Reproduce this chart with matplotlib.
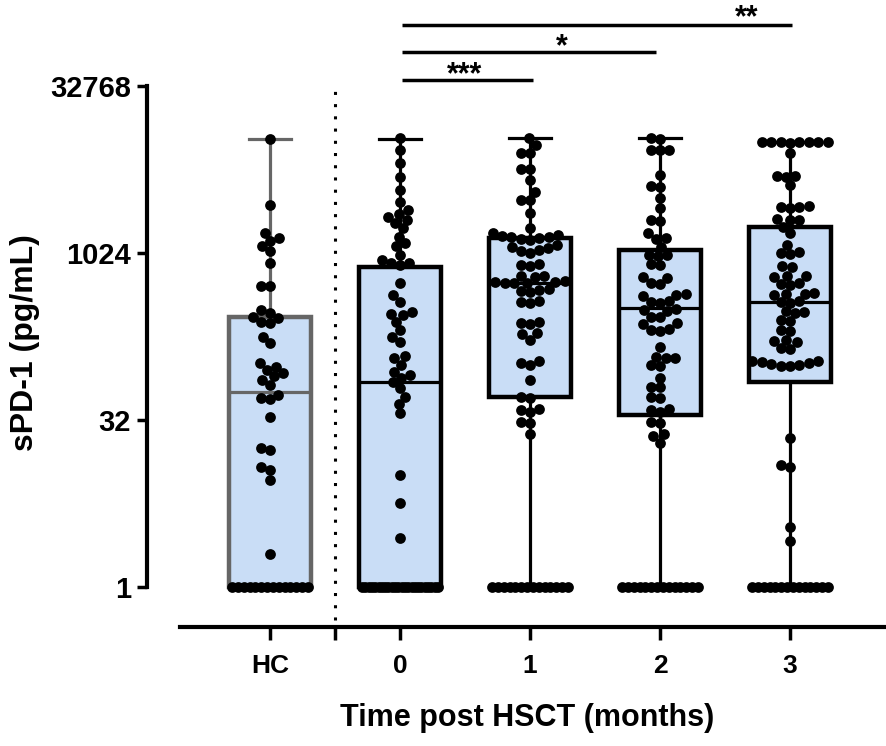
import numpy as np
import matplotlib
matplotlib.use("Agg")
import matplotlib.pyplot as plt

plt.rcParams['font.family'] = ['Liberation Sans', 'DejaVu Sans']
plt.rcParams['font.weight'] = 'bold'

# ---------------- data (pg/mL) ----------------
categories = ['HC', '0', '1', '2', '3']

hc_vals = [10809, 2797, 1552, 1399, 1305, 1176, 1060, 832, 512, 512,
           315, 294, 274, 265, 247, 239, 181, 158, 104, 97, 91, 84, 79, 74,
           66, 54, 50, 49, 34, 18, 17, 12, 11.3, 9.2, 2] + [1] * 14

m0_vals = [11040, 8660, 6562, 5007, 3795, 2978, 2504, 2300, 2180, 2048,
           1900, 1710, 1438, 1250, 1176, 982, 880, 826, 826, 800,
           545, 428, 372, 302, 290, 282, 246, 206, 180, 162, 120, 115, 100,
           87, 82, 76, 70, 62, 52, 45, 37, 10.2, 5.7, 2.75] + [1] * 24

m1_vals = [11040, 9610, 8192, 8192, 5793, 5793, 4705, 3666, 3104, 3104,
           2353, 1710, 1552, 1500, 1450, 1438, 1420, 1400, 1380, 1342, 1209,
           1150, 1128, 1100, 1060, 1024, 810, 800, 790, 640, 630, 620,
           570, 565, 560, 555, 550, 545, 485, 478, 470, 460, 375, 370, 365,
           245, 239, 235, 194, 190, 169, 108, 104, 100, 74, 52, 51,
           40, 39, 38, 31, 30, 24] + [1] * 14

m2_vals = [11040, 10900, 8770, 8700, 8600, 5148, 4096, 4000, 3191, 2610,
           2034, 2000, 1541, 1399, 1380, 1168, 990, 982, 970, 815, 800,
           622, 610, 549, 540, 435, 428, 420, 375, 370, 365, 320, 315, 310,
           274, 270, 239, 235, 210, 208, 205, 147, 119, 117, 115, 100, 98,
           77, 64, 63, 52, 51, 40, 39, 38, 31, 30, 24, 23, 20] + [1] * 14

m3_vals = [10300, 10280, 10250, 10226, 10200, 10180, 10150, 10100, 8192,
           5100, 5044, 5000, 4181, 2700, 2665, 2640, 2600, 2070, 2048, 2020,
           1758, 1552, 1209, 1040, 1024, 1000, 776, 760, 640, 630, 620,
           545, 537, 530, 445, 440, 437, 430, 375, 370, 365, 305, 300, 296,
           254, 250, 208, 204, 168, 164, 160, 142, 140, 110, 108,
           106, 104, 102, 100, 99, 98, 22, 12.5, 12, 3.5, 2.6] + [1] * 14

group_vals = [hc_vals, m0_vals, m1_vals, m2_vals, m3_vals]

box_q1 = [1, 1, 51.6, 35.5, 70.5]
box_med = [57, 70.5, 549, 326, 370]
box_q3 = [271, 765, 1399, 1090, 1758]
box_min = [1, 1, 1, 1, 1]
box_max = [10809, 10900, 11040, 11040, 10226]

ytick_vals = [1, 32, 1024, 32768]
ytick_labels = ['1', '32', '1024', '32768']

sig_pairs = [(1, 2), (1, 3), (1, 4)]
sig_labels = ['***', '*', '**']

xlabel = 'Time post HSCT (months)'
ylabel = 'sPD-1 (pg/mL)'

# ---------------- layout helpers ----------------
PX_X = 130.0     # pixels per category unit
PX_Y = 33.4      # pixels per doubling
D = 9.5          # collision distance between dots (px)


def swarm(vals, half_w=38.0):
    vals = np.asarray(vals, float)
    ypx = np.log2(vals) * PX_Y
    xs = np.zeros(len(vals))
    base = vals == 1
    nb = int(base.sum())
    if nb > 1:
        step = min(D * 0.8, 2 * half_w / (nb - 1))
        xs[base] = (np.arange(nb) - (nb - 1) / 2) * step
    idx = np.where(~base)[0]
    idx = idx[np.argsort(ypx[idx])]
    placed = []
    for i in idx:
        y = ypx[i]
        forb = []
        for (px, py) in placed:
            dy = abs(py - y)
            if dy < D:
                h = np.sqrt(D * D - dy * dy)
                forb.append((px - h, px + h))
        cands = [0.0] + [a for a, b in forb] + [b for a, b in forb]
        cands.sort(key=abs)
        chosen = 0.0
        for c in cands:
            if all(not (a + 1e-6 < c < b - 1e-6) for a, b in forb):
                chosen = c
                break
        chosen = float(np.clip(chosen, -half_w, half_w))
        xs[i] = chosen
        placed.append((chosen, y))
    return xs / PX_X


# ---------------- figure ----------------
W, H = 886, 746
fig = plt.figure(figsize=(W / 100, H / 100), dpi=100)
ax_left, ax_bottom_px, ax_top_px = 147, 627, 0
ax = fig.add_axes([ax_left / W, (H - ax_bottom_px) / H, 1 - ax_left / W,
                   (ax_bottom_px - ax_top_px) / H])

x0_px = 270.0
ax.set_xlim((ax_left - x0_px) / PX_X, (W - x0_px) / PX_X)
ax.set_yscale('log', base=2)
ax.set_ylim(2 ** ((587 - ax_bottom_px) / PX_Y), 2 ** ((587 - ax_top_px) / PX_Y))

positions = np.arange(len(categories))
stats = []
for i in range(len(categories)):
    stats.append(dict(med=box_med[i], q1=box_q1[i], q3=box_q3[i],
                      whislo=box_min[i], whishi=box_max[i], fliers=[]))

face = '#c9ddf6'
bp = ax.bxp(stats, positions=positions, widths=0.63, patch_artist=True,
            showfliers=False, capwidths=0.32,
            boxprops=dict(facecolor=face, edgecolor='black', linewidth=3.2),
            whiskerprops=dict(color='black', linewidth=2.3),
            capprops=dict(color='black', linewidth=2.3),
            medianprops=dict(color='black', linewidth=2.3),
            zorder=2)
gray = '#666666'
bp['boxes'][0].set_edgecolor(gray)
for k in (0, 1):
    bp['whiskers'][k].set_color(gray)
    bp['caps'][k].set_color(gray)
bp['medians'][0].set_color(gray)

for i, vals in enumerate(group_vals):
    xo = swarm(vals)
    ax.scatter(positions[i] + xo, vals, s=60, color='black', linewidths=0,
               zorder=4, clip_on=False)

# dotted separator
ax.vlines(0.5, 2 ** ((587 - 620) / PX_Y), 32768, colors='black',
          linestyles=(0, (1, 3)), linewidth=2.2, zorder=1)

# significance bars
bar_y_px = [80, 52, 25]
bar_x0_px = 402
bar_x1_px = [533, 656, 792]
txt_x_px = [465, 562, 747]
txt_base_px = [83, 55, 26.5]
for lab, yp, x1, tx, tb in zip(sig_labels, bar_y_px, bar_x1_px, txt_x_px, txt_base_px):
    yv = 2 ** ((587 - yp) / PX_Y)
    ax.plot([(bar_x0_px - x0_px) / PX_X, (x1 - x0_px) / PX_X], [yv, yv],
            color='black', lw=2.5, solid_capstyle='butt', clip_on=False, zorder=5)
    ax.text((tx - x0_px) / PX_X, 2 ** ((587 - tb) / PX_Y), lab, ha='center',
            va='baseline', fontsize=22, fontweight='bold')

# axes styling
for s in ('top', 'right'):
    ax.spines[s].set_visible(False)
ax.spines['left'].set_linewidth(3)
ax.spines['bottom'].set_linewidth(3)
ax.spines['left'].set_bounds(1, 32768)
ax.spines['bottom'].set_bounds((180 - x0_px) / PX_X, (W - x0_px) / PX_X)

ax.set_yticks(ytick_vals)
ax.set_yticklabels(ytick_labels)
ax.yaxis.set_minor_locator(matplotlib.ticker.NullLocator())
ax.tick_params(axis='y', length=7.5, width=2.5, labelsize=21, pad=4)

ax.set_xticks([0, 0.5, 1, 2, 3, 4])
ax.set_xticklabels(['HC', ''] + categories[1:])
ax.tick_params(axis='x', length=9.5, width=2.5, labelsize=19, pad=10)

ax.set_xlabel(xlabel, fontsize=22, fontweight='bold')
ax.xaxis.set_label_coords((527 - ax_left) / (W - ax_left), (ax_bottom_px - 703) / ax_bottom_px)
ax.set_ylabel(ylabel, fontsize=23, fontweight='bold')
ax.yaxis.set_label_coords((40 - ax_left) / (W - ax_left), (ax_bottom_px - 343) / ax_bottom_px)

ax.patch.set_visible(False)
fig.savefig('out.png', dpi=100)
